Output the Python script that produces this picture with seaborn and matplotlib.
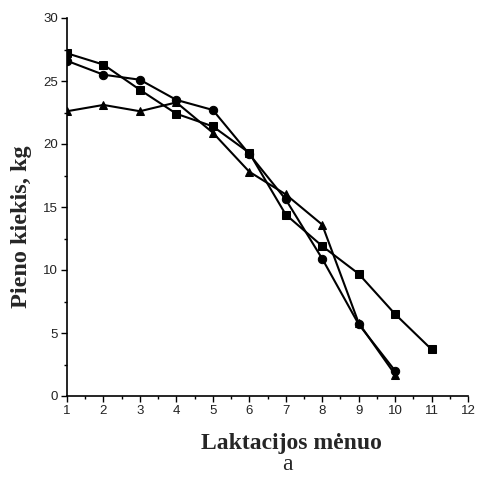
import numpy as np
import pandas as pd
import matplotlib
matplotlib.use("Agg")
import matplotlib.pyplot as plt
import seaborn as sns
from matplotlib.ticker import MultipleLocator

# Data
months_sq = [1, 2, 3, 4, 5, 6, 7, 8, 9, 10, 11]
milk_sq = [27.2, 26.3, 24.3, 22.4, 21.4, 19.3, 14.4, 11.9, 9.7, 6.5, 3.7]
months_ci = [1, 2, 3, 4, 5, 6, 7, 8, 9, 10]
milk_ci = [26.6, 25.5, 25.1, 23.5, 22.7, 19.2, 15.6, 10.9, 5.7, 2.0]
months_tr = [1, 2, 3, 4, 5, 6, 7, 8, 9, 10]
milk_tr = [22.6, 23.1, 22.6, 23.3, 20.9, 17.8, 16.0, 13.6, 5.8, 1.7]
series_names = ["sq", "ci", "tr"]
x_ticks = list(range(1, 13))
y_ticks = [0, 5, 10, 15, 20, 25, 30]
x_label = "Laktacijos mėnuo"
y_label = "Pieno kiekis, kg"
caption = "a"

df = pd.concat([
    pd.DataFrame({"month": months_sq, "milk": milk_sq, "series": "sq"}),
    pd.DataFrame({"month": months_ci, "milk": milk_ci, "series": "ci"}),
    pd.DataFrame({"month": months_tr, "milk": milk_tr, "series": "tr"}),
])

sns.set_theme(style="ticks")
plt.rcParams["font.family"] = ["Liberation Sans", "DejaVu Sans"]

fig = plt.figure(figsize=(4.78, 4.83), dpi=100)
ax = fig.add_axes([67 / 478, 1 - 396 / 483, (468 - 67) / 478, (396 - 18) / 483])

markers = {"sq": "s", "ci": "o", "tr": "^"}
palette = {"sq": "black", "ci": "black", "tr": "black"}
sns.lineplot(data=df, x="month", y="milk", hue="series", style="series",
             markers=markers, dashes=False, palette=palette, legend=False,
             linewidth=1.5, markersize=6, markeredgecolor="black", ax=ax,
             sort=False)

ax.set_xlim(1, 12)
ax.set_ylim(0, 30)
ax.set_xticks(x_ticks)
ax.set_yticks(y_ticks)
ax.xaxis.set_minor_locator(MultipleLocator(0.5))
ax.yaxis.set_minor_locator(MultipleLocator(2.5))
ax.tick_params(axis="both", which="major", length=4.5, width=1.0, color="black",
               labelsize=9.5, pad=2, labelcolor="#222222")
ax.tick_params(axis="both", which="minor", length=2.5, width=1.0, color="black")
for s in ["top", "right"]:
    ax.spines[s].set_visible(False)
for s in ["left", "bottom"]:
    ax.spines[s].set_linewidth(1.2)
    ax.spines[s].set_color("black")
ax.set_xlabel("")
ax.set_ylabel("")

fig.text(291 / 478, 1 - 443 / 483, x_label, ha="center", va="center",
         fontsize=17, fontweight="bold", family=["Liberation Serif", "DejaVu Serif"])
fig.text(22 / 478, 1 - 227 / 483, y_label, ha="center", va="center", rotation=90,
         fontsize=17.5, fontweight="bold", family=["Liberation Serif", "DejaVu Serif"])
fig.text(287 / 478, 1 - 465 / 483, caption, ha="center", va="center",
         fontsize=17, family=["Liberation Serif", "DejaVu Serif"])

fig.savefig("out.png", dpi=100)
